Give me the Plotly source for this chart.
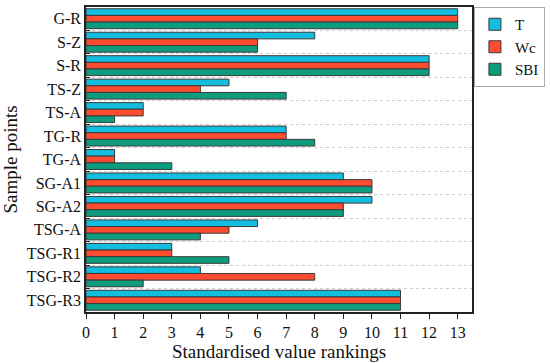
import plotly.graph_objects as go

categories = ["G-R", "S-Z", "S-R", "TS-Z", "TS-A", "TG-R", "TG-A",
              "SG-A1", "SG-A2", "TSG-A", "TSG-R1", "TSG-R2", "TSG-R3"]
T_vals = [13, 8, 12, 5, 2, 7, 1, 9, 10, 6, 3, 4, 11]
Wc_vals = [13, 6, 12, 4, 2, 7, 1, 10, 9, 5, 3, 8, 11]
SBI_vals = [13, 6, 12, 7, 1, 8, 3, 10, 9, 4, 5, 2, 11]
x_ticks = list(range(0, 14))

series = [("T", T_vals, "#12BEDF"), ("Wc", Wc_vals, "#FF4B2F"), ("SBI", SBI_vals, "#0E9C7E")]

fig = go.Figure()
for name, vals, col in series:
    fig.add_trace(go.Bar(
        y=categories, x=vals, name=name, orientation="h",
        marker=dict(color=col, line=dict(color="#3a3a3a", width=1)),
    ))

font = "Liberation Serif, Times New Roman, serif"
fig.update_layout(
    width=550, height=363,
    barmode="group", bargap=0.15, bargroupgap=0,
    paper_bgcolor="white", plot_bgcolor="white",
    margin=dict(l=86, r=78, t=5, b=48),
    font=dict(family=font, size=16, color="#111"),
    legend=dict(x=1.005, y=1, xanchor="left", yanchor="top",
                bordercolor="#aaaaaa", borderwidth=1, bgcolor="white",
                font=dict(size=15), tracegroupgap=0, itemwidth=30),
    xaxis=dict(range=[0, 13.5], tickvals=x_ticks, ticks="outside", ticklen=5,
               tickcolor="#222", showline=True, linecolor="#222", linewidth=1.5,
               mirror=True, showgrid=False, zeroline=False,
               title=dict(text="Standardised value rankings", standoff=4),
               tickfont=dict(size=16)),
    yaxis=dict(categoryorder="array", categoryarray=categories, autorange="reversed",
               tickson="boundaries", ticks="inside", ticklen=4, tickcolor="#222",
               showline=True, linecolor="#222", linewidth=1.5, mirror=True,
               showgrid=True, gridcolor="#cccccc", griddash="dot", gridwidth=1,
               title=dict(text="Sample points", standoff=6),
               tickfont=dict(size=16)),
)

fig.write_html("out.html", config={"displayModeBar": False},
               post_script="document.body.style.margin='0';")
